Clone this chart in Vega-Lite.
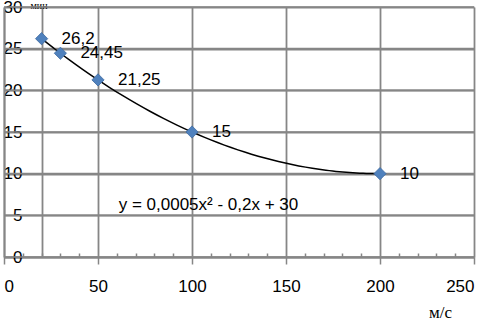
{
  "$schema": "https://vega.github.io/schema/vega-lite/v6.json",
  "width": 470,
  "height": 250,
  "autosize": "none",
  "padding": {"left": 4, "top": 7, "right": 14, "bottom": 64},
  "background": "white",
  "config": {"view": {"stroke": null}, "font": "Liberation Sans",
    "axis": {"domainColor": "#868686", "domainWidth": 1.8, "gridColor": "#868686", "gridWidth": 1.8, "labelColor": "black", "labelFontSize": 17, "labelOverlap": false, "titleFontWeight": "normal", "titleColor": "black"}},
  "data": {"values": [
    {"v": 20, "t": 26.2, "lbl": "26,2"},
    {"v": 30, "t": 24.45, "lbl": "24,45"},
    {"v": 50, "t": 21.25, "lbl": "21,25"},
    {"v": 100, "t": 15, "lbl": "15"},
    {"v": 200, "t": 10, "lbl": "10"}
  ]},
  "encoding": {
    "x": {"field": "v", "type": "quantitative",
      "scale": {"domain": [0, 250], "nice": false},
      "axis": {
        "values": [0,10,20,30,40,50,60,70,80,90,100,110,120,130,140,150,160,170,180,190,200,210,220,230,240,250],
        "labelExpr": "datum.value % 50 === 0 ? datum.value : ''",
        "labelPadding": 14,
        "tickColor": "#868686", "tickWidth": 1.5,
        "tickSize": {"condition": {"test": "datum.value % 50 === 0", "value": 7}, "value": -4},
        "grid": true,
        "gridOpacity": {"condition": {"test": "datum.value % 50 === 0 || datum.value === 20", "value": 1}, "value": 0},
        "title": "м/с", "titleFont": "Liberation Serif", "titleFontSize": 17,
        "titleX": 436, "titleY": 60, "titleBaseline": "alphabetic", "titleAlign": "center"
      }},
    "y": {"field": "t", "type": "quantitative",
      "scale": {"domain": [0, 30], "nice": false},
      "axis": {
        "values": [0,5,10,15,20,25,30],
        "grid": true,
        "labelPadding": -18, "tickSize": 0,
        "labelAlign": "right",
        "title": "мин", "titleFont": "Liberation Serif", "titleFontSize": 10,
        "titleAngle": 0, "titleX": 26, "titleY": -7, "titleAlign": "left", "titleBaseline": "top"
      }}
  },
  "layer": [
    {
      "data": {"values": [{"h": 0}, {"h": 5}, {"h": 10}, {"h": 15}, {"h": 20}, {"h": 25}, {"h": 30}]},
      "mark": {"type": "tick", "orient": "horizontal", "size": 470, "thickness": 1.6, "color": "#868686", "opacity": 1},
      "encoding": {"y": {"field": "h", "type": "quantitative"}, "x": null}
    },
    {
      "transform": [{"regression": "t", "on": "v", "method": "poly", "order": 2, "extent": [20, 200]}],
      "mark": {"type": "line", "color": "black", "strokeWidth": 1.5, "interpolate": "monotone"}
    },
    {
      "mark": {"type": "point", "shape": "diamond", "filled": true, "size": 150, "color": "#4F81BD", "stroke": "#3d6aa0", "strokeWidth": 0.8, "opacity": 1}
    },
    {
      "mark": {"type": "text", "align": "left", "baseline": "middle", "dx": 20, "fontSize": 17, "color": "black"},
      "encoding": {"text": {"field": "lbl"}}
    },
    {
      "data": {"values": [{"v": 61, "t": 6.2, "eq": "y = 0,0005x² - 0,2x + 30"}]},
      "mark": {"type": "text", "align": "left", "baseline": "middle", "fontSize": 17, "color": "black"},
      "encoding": {"text": {"field": "eq"}}
    }
  ]
}
